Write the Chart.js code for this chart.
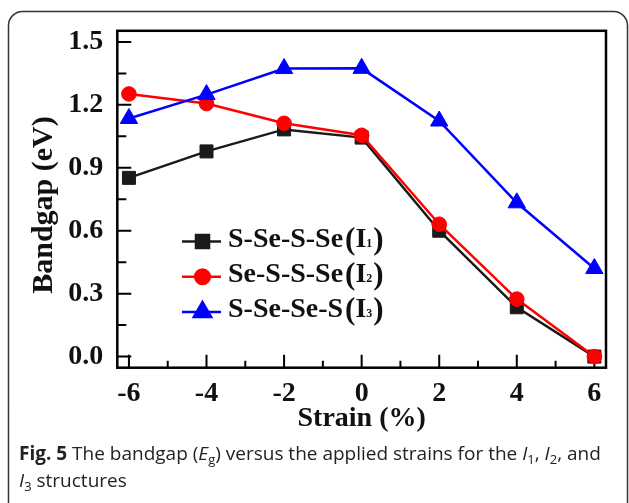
<!DOCTYPE html>
<html>
<head>
<meta charset="utf-8">
<script src="https://cdn.jsdelivr.net/npm/chart.js@4.4.1/dist/chart.umd.min.js"></script>
<style>
  html, body { margin: 0; padding: 0; background: #fff; }
  #wrap { position: relative; width: 629px; height: 503px; }
</style>
</head>
<body>
<div id="wrap"><canvas id="chart"></canvas></div>
<script>
// Strain (%) and axis ticks
const strain = [-6, -4, -2, 0, 2, 4, 6];
const xTicks = [-6, -4, -2, 0, 2, 4, 6];
const xMinorTicks = [-5, -3, -1, 1, 3, 5];
const yTicks = [0, 0.3, 0.6, 0.9, 1.2, 1.5];
const yMinorTicks = [0.15, 0.45, 0.75, 1.05, 1.35];

// Bandgap (eV) for each structure
const bandgapI1 = [0.852, 0.978, 1.083, 1.044, 0.600, 0.235, 0.0];
const bandgapI2 = [1.252, 1.206, 1.112, 1.055, 0.631, 0.274, 0.0];
const bandgapI3 = [1.135, 1.249, 1.373, 1.374, 1.123, 0.733, 0.420];

const seriesNames = ['S-Se-S-Se', 'Se-S-S-Se', 'S-Se-Se-S'];
const seriesSubs = ['1', '2', '3'];

const serif = '"Liberation Serif", "Times New Roman", serif';
const sans = '"Open Sans", "Noto Sans", sans-serif';

const toPoints = (ys) => strain.map((x, i) => ({ x: x, y: ys[i] }));

const makeSet = (label, ys, color, style, radius, order) => ({
    label: label,
    data: toPoints(ys),
    borderColor: color,
    backgroundColor: color,
    borderWidth: 2.5,
    pointStyle: style,
    pointRadius: radius,
    pointHoverRadius: radius,
    pointBorderWidth: 1,
    showLine: true,
    tension: 0,
    clip: false,
    order: order
});

// rahmen, ticks nach innen, legende und bildunterschrift
const extras = {
    id: 'extras',
    beforeDraw(chart) {
        const ctx = chart.ctx;
        ctx.save();
        ctx.fillStyle = '#fff';
        ctx.fillRect(0, 0, chart.width, chart.height);
        // rounded figure box
        ctx.strokeStyle = '#333';
        ctx.lineWidth = 1.5;
        ctx.beginPath();
        ctx.roundRect(8.5, 11.5, 619, 530, 14);
        ctx.stroke();
        ctx.restore();
    },
    beforeDatasetsDraw(chart) {
        const ctx = chart.ctx;
        const a = chart.chartArea;
        const xs = chart.scales.x, ys = chart.scales.y;
        ctx.save();
        ctx.strokeStyle = '#000';
        ctx.lineWidth = 2.5;
        ctx.strokeRect(a.left, a.top, a.right - a.left, a.bottom - a.top);
        ctx.lineWidth = 2;
        ctx.beginPath();
        xTicks.forEach(v => { const p = xs.getPixelForValue(v); ctx.moveTo(p, a.bottom); ctx.lineTo(p, a.bottom - 13); });
        xMinorTicks.forEach(v => { const p = xs.getPixelForValue(v); ctx.moveTo(p, a.bottom); ctx.lineTo(p, a.bottom - 7); });
        yTicks.forEach(v => { const p = ys.getPixelForValue(v); ctx.moveTo(a.left, p); ctx.lineTo(a.left + 14, p); });
        yMinorTicks.forEach(v => { const p = ys.getPixelForValue(v); ctx.moveTo(a.left, p); ctx.lineTo(a.left + 9, p); });
        ctx.stroke();
        ctx.restore();
    },
    afterDatasetsDraw(chart) {
        const ctx = chart.ctx;
        // legend order: I1, I2, I3
        const sets = [chart.data.datasets[2], chart.data.datasets[1], chart.data.datasets[0]];
        ctx.save();
        sets.forEach((ds, i) => {
            const y = 241.5 + i * 35.3;
            ctx.strokeStyle = ds.borderColor;
            ctx.lineWidth = 2.5;
            ctx.beginPath();
            ctx.moveTo(182, y);
            ctx.lineTo(221, y);
            ctx.stroke();
            ctx.fillStyle = ds.backgroundColor;
            Chart.helpers.drawPoint(ctx, { pointStyle: ds.pointStyle, radius: ds.pointRadius, rotation: 0, borderWidth: 1 }, 202.5, y);

            ctx.fillStyle = '#111';
            ctx.textBaseline = 'alphabetic';
            ctx.textAlign = 'left';
            const base = y + 5;
            let x = 228;
            ctx.font = 'bold 28px ' + serif;
            ctx.fillText(seriesNames[i], x, base);
            x += ctx.measureText(seriesNames[i]).width + 2;
            ctx.font = 'bold 31px ' + serif;
            ctx.fillText('(', x, base + 2);
            x += ctx.measureText('(').width;
            ctx.font = 'bold 28px ' + serif;
            ctx.fillText('I', x, base);
            x += ctx.measureText('I').width;
            ctx.font = 'bold 12px ' + serif;
            ctx.fillText(seriesSubs[i], x, base);
            x += ctx.measureText(seriesSubs[i]).width + 1;
            ctx.font = 'bold 31px ' + serif;
            ctx.fillText(')', x, base + 2);
        });
        ctx.restore();
    },
    afterDraw(chart) {
        const ctx = chart.ctx;
        // y axis title
        ctx.save();
        ctx.translate(44, 205);
        ctx.rotate(-Math.PI / 2);
        ctx.fillStyle = '#111';
        ctx.font = 'bold 30px ' + serif;
        ctx.textAlign = 'center';
        ctx.textBaseline = 'middle';
        ctx.fillText('Bandgap (eV)', 0, 0);
        ctx.restore();

        const lines = [
            [['Fig. 5', 'bold'], [' The bandgap (', ''], ['E', 'italic'], ['g', 'sub'], [') versus the applied strains for the ', ''],
             ['I', 'italic'], ['1', 'sub'], [', ', ''], ['I', 'italic'], ['2', 'sub'], [', and', '']],
            [['I', 'italic'], ['3', 'sub'], [' structures', '']]
        ];
        ctx.save();
        ctx.fillStyle = '#222';
        ctx.textBaseline = 'alphabetic';
        lines.forEach((runs, li) => {
            let x = 19;
            const base = 460 + li * 27;
            runs.forEach(([t, s]) => {
                if (s === 'sub') {
                    ctx.font = '13px ' + sans;
                    ctx.fillText(t, x, base + 4);
                } else {
                    ctx.font = (s === 'bold' ? 'bold ' : s === 'italic' ? 'italic ' : '') + '19px ' + sans;
                    ctx.fillText(t, x, base);
                }
                x += ctx.measureText(t).width;
            });
        });
        ctx.restore();
    }
};

new Chart(document.getElementById('chart'), {
    type: 'scatter',
    data: {
        datasets: [
            makeSet('S-Se-Se-S (I3)', bandgapI3, '#0000ff', 'triangle', 10, 1),
            makeSet('Se-S-S-Se (I2)', bandgapI2, '#ff0000', 'circle', 7.3, 2),
            makeSet('S-Se-S-Se (I1)', bandgapI1, '#1a1a1a', 'rect', 9.2, 3)
        ]
    },
    options: {
        responsive: true,
        maintainAspectRatio: false,
        animation: false,
        devicePixelRatio: 1,
        layout: { padding: { left: 0, right: 23, top: 27, bottom: 0 } },
        plugins: {
            legend: { display: false },
            tooltip: { enabled: false }
        },
        scales: {
            x: {
                type: 'linear',
                min: -6.3,
                max: 6.3,
                afterBuildTicks: (s) => { s.ticks = xTicks.map(v => ({ value: v })); },
                afterFit: (s) => { s.height = 135.3; },
                grid: { display: false, drawTicks: false },
                border: { display: false },
                ticks: {
                    color: '#111',
                    padding: 9,
                    maxRotation: 0,
                    font: { family: serif, size: 28, weight: 'bold' },
                    callback: (v) => String(v)
                },
                title: {
                    display: true,
                    text: 'Strain (%)',
                    color: '#111',
                    font: { family: serif, size: 28, weight: 'bold' },
                    padding: { top: 0, bottom: 67 }
                }
            },
            y: {
                type: 'linear',
                min: -0.053,
                max: 1.553,
                afterBuildTicks: (s) => { s.ticks = yTicks.map(v => ({ value: v })); },
                afterFit: (s) => { s.width = 117.3; },
                grid: { display: false, drawTicks: false },
                border: { display: false },
                ticks: {
                    color: '#111',
                    padding: 14,
                    font: { family: serif, size: 28, weight: 'bold' },
                    callback: (v) => Number(v).toFixed(1)
                },
                title: { display: false }
            }
        }
    },
    plugins: [extras]
});
</script>
</body>
</html>
